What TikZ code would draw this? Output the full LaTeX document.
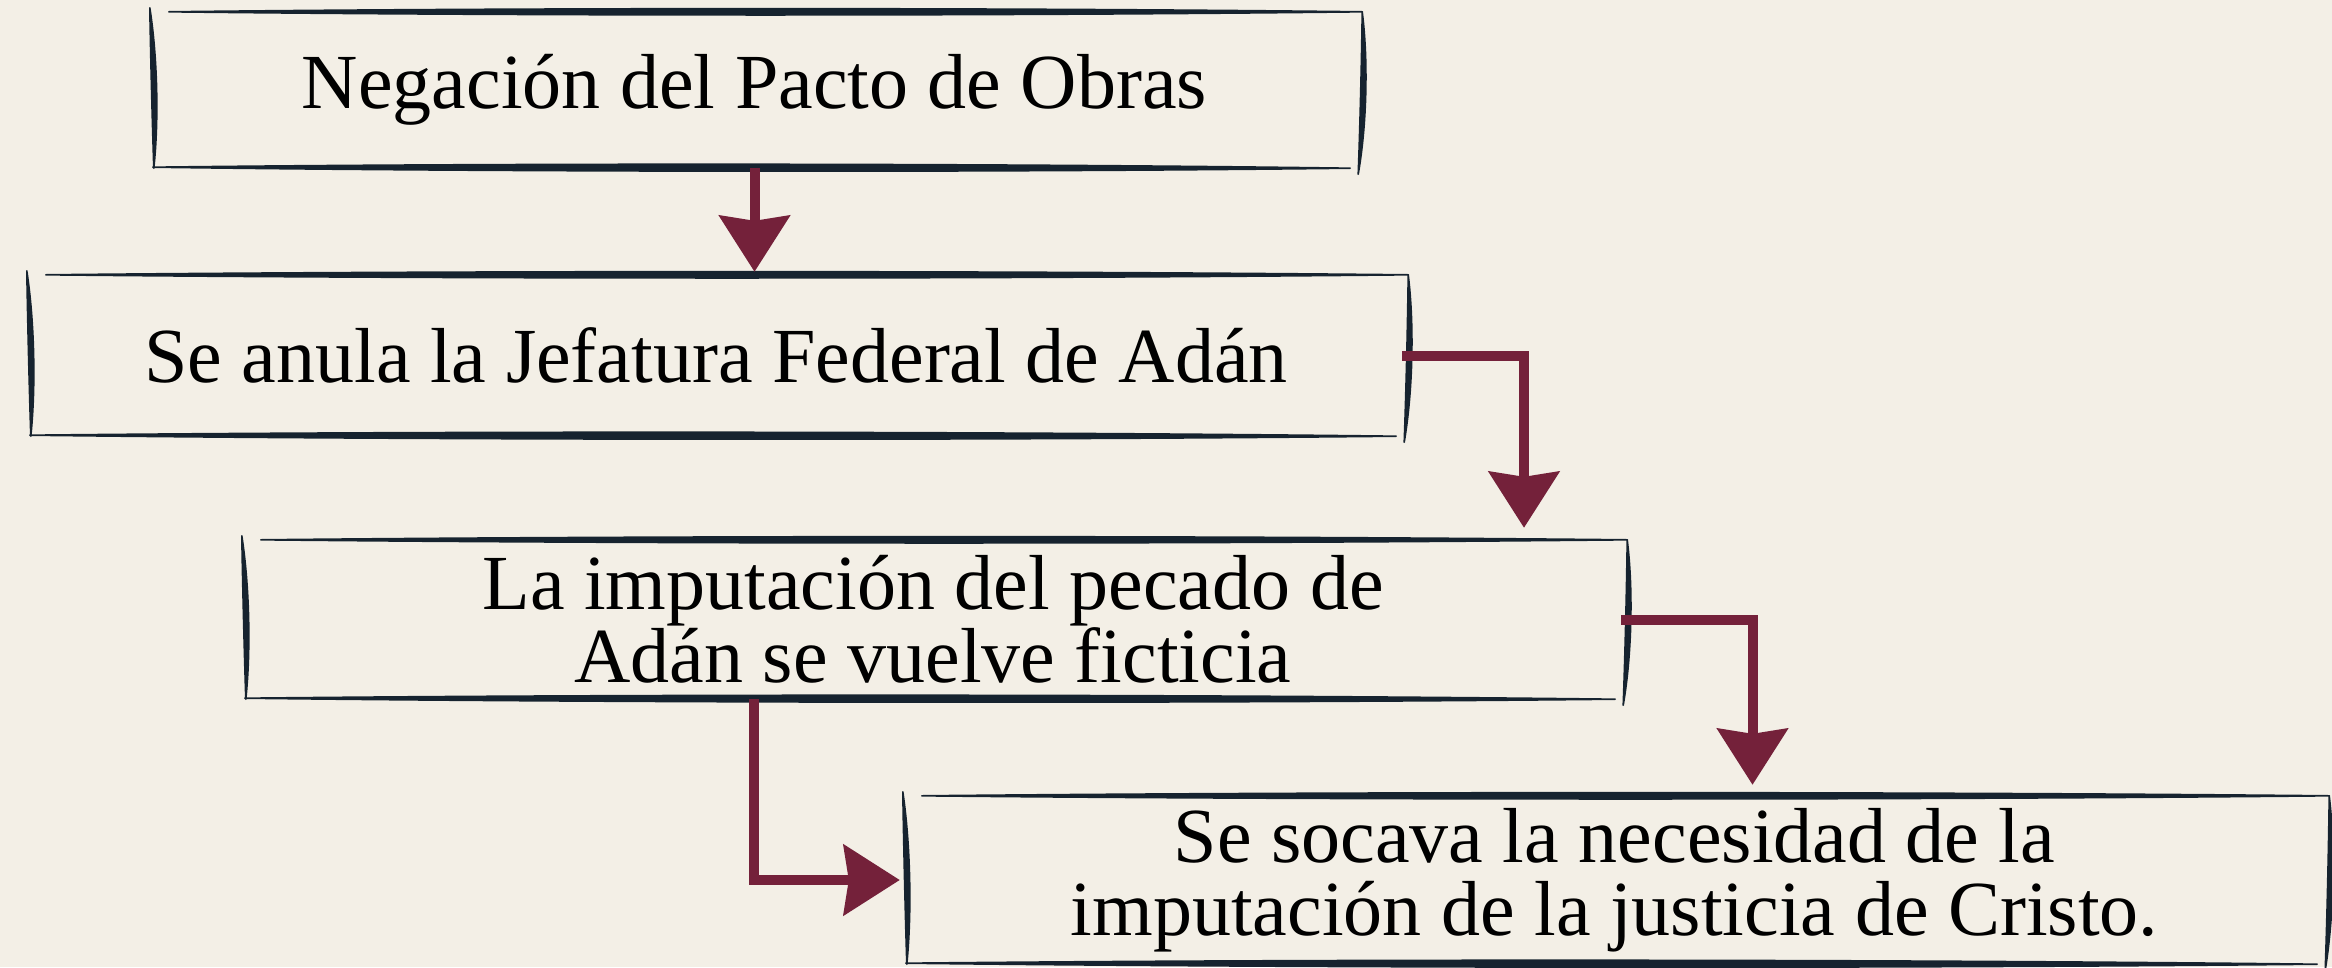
\documentclass[tikz,border=0pt]{standalone}
\usepackage{fontspec}
\setmainfont{Liberation Serif}
\usetikzlibrary{arrows.meta,calc}
\definecolor{bg}{HTML}{F3EFE6}
\definecolor{ink}{HTML}{16232F}
\definecolor{maroon}{HTML}{74213A}
\tikzset{
  box/.style={inner sep=0pt, align=center, text=black,
    font=\fontsize{78}{73}\selectfont},
  conn/.style={draw=maroon, line width=10pt, line join=miter,
    -{Stealth[length=56pt,width=70pt,inset=5pt]}},
  inkline/.style={fill=ink, draw=ink, line width=1.6pt, line join=round},
}
% tapered horizontal stroke: from, to, half thickness
\newcommand\hstroke[3]{%
  \filldraw[inkline] (#1) .. controls ($(#1)!0.3!(#2)+(0,#3)$) and ($(#1)!0.7!(#2)+(0,#3)$) .. (#2)
   .. controls ($(#1)!0.7!(#2)-(0,#3)$) and ($(#1)!0.3!(#2)-(0,#3)$) .. (#1) -- cycle;}
% tapered vertical stroke: from, to, half thickness, bow
\newcommand\vstroke[4]{%
  \filldraw[inkline] (#1) .. controls ($(#1)!0.3!(#2)+(#4+#3,0)$) and ($(#1)!0.7!(#2)+(#4+#3,0)$) .. (#2)
   .. controls ($(#1)!0.7!(#2)+(#4-#3,0)$) and ($(#1)!0.3!(#2)+(#4-#3,0)$) .. (#1) -- cycle;}
\newcommand\sketchbox[1]{%
  \hstroke{$(#1.north west)+(16pt,0pt)$}{$(#1.north east)+(6pt,0pt)$}{4.2pt}
  \hstroke{$(#1.south west)+(0pt,1pt)$}{$(#1.south east)+(-6pt,0pt)$}{4.6pt}
  \vstroke{$(#1.north west)+(-3pt,4pt)$}{$(#1.south west)+(1pt,0pt)$}{3.4pt}{3pt}
  \vstroke{$(#1.north east)+(6pt,0pt)$}{$(#1.south east)+(2pt,-6pt)$}{3.4pt}{4pt}}
\begin{document}
\begin{tikzpicture}[x=1pt,y=-1pt]
  \fill[bg] (0,0) rectangle (2332,967);
  \useasboundingbox (0,0) rectangle (2332,967);

  \node[box, minimum width=1203pt, minimum height=156pt] (b1) at (754.5,90)
    {Negación del Pacto de Obras};
  \node[box, minimum width=1372pt, minimum height=161pt] (b2) at (716,355.5)
    {Se anula la Jefatura Federal de Adán};
  \node[box, minimum width=1376pt, minimum height=159pt] (b3) at (933,619.5)
    {La imputación del pecado de\\Adán se vuelve ficticia};
  \node[box, minimum width=1417pt, minimum height=168pt] (b4) at (1614.5,880)
    {Se socava la necesidad de la\\imputación de la justicia de Cristo.};

  \sketchbox{b1}
  \sketchbox{b2}
  \sketchbox{b3}
  \sketchbox{b4}

  \draw[conn, shorten >=3pt] (b1.south) -- (b1.south |- b2.north);
  \draw[conn, shorten >=12pt] (b2.east) -| ([xshift=591pt]b3.north);
  \draw[conn, shorten >=11pt] (b3.east) -| ([xshift=138pt]b4.north);
  \draw[conn, shorten >=6pt] ([xshift=-179pt]b3.south) |- (b4.west);
\end{tikzpicture}
\end{document}
